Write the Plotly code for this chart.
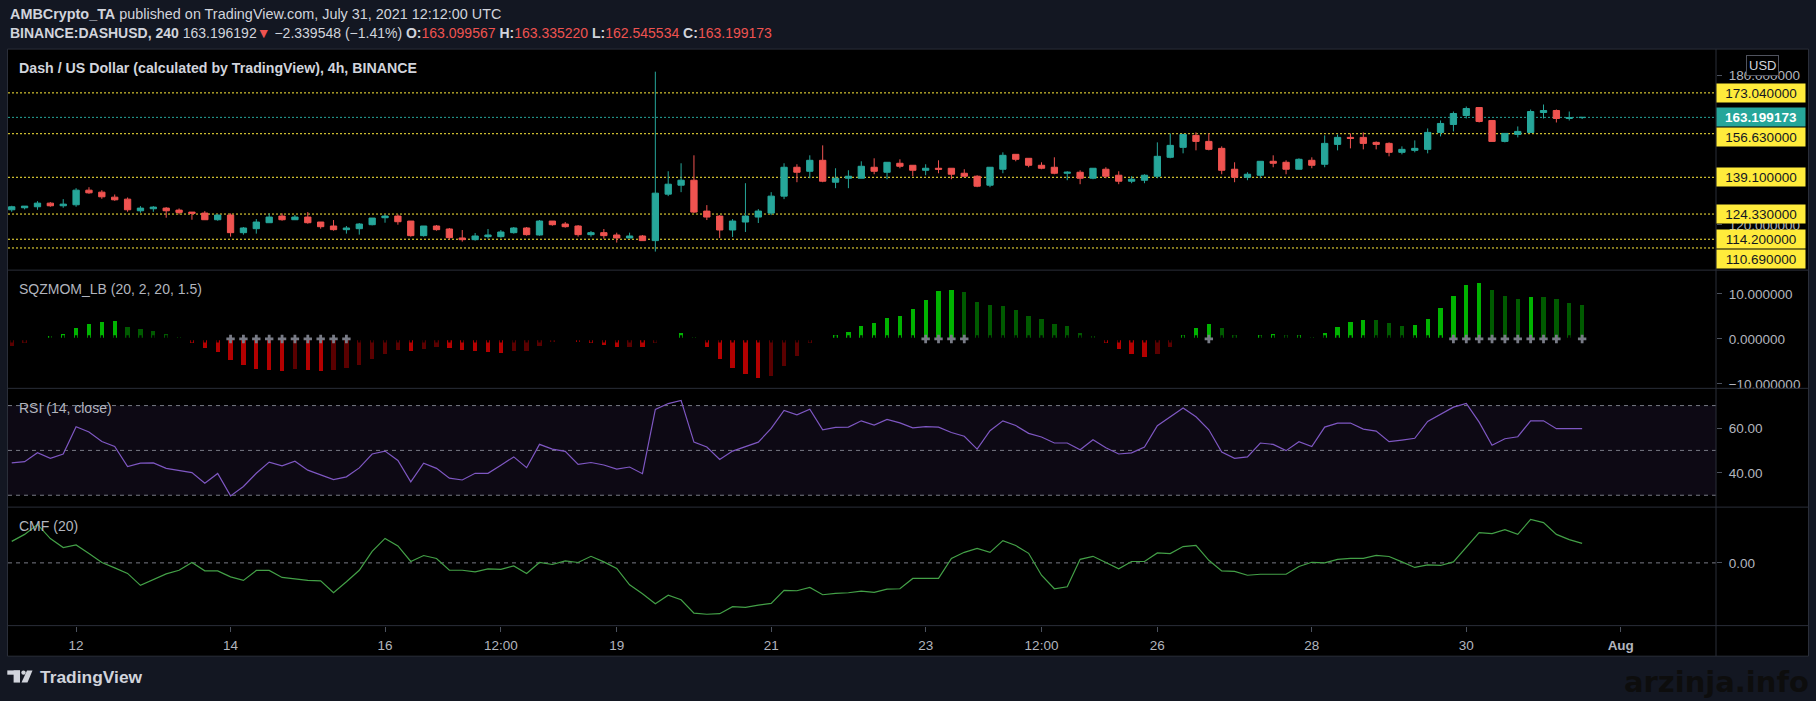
import pandas as pd
import plotly.graph_objects as go

W, H = 1816, 701
FONT = "Liberation Sans"

# ---------------- data ----------------
times = pd.date_range("2021-07-11 04:00", periods=123, freq="4h")

opens = [126.05, 126.86, 127.26, 128.72, 127.66, 128.06, 133.93, 133.13, 131.12, 130.32,
         125.65, 126.45, 126.72, 125.92, 125.12, 124.72, 122.05, 123.92, 116.85, 118.45,
         120.85, 123.52, 122.05, 123.12, 121.12, 119.52, 118.05, 118.45, 120.05, 122.85,
         123.52, 121.52, 115.65, 119.52, 118.32, 114.70, 114.04, 115.25, 115.25, 116.85,
         118.72, 115.91, 121.52, 120.32, 119.52, 116.05, 116.85, 115.91, 114.71, 115.51,
         113.65, 132.33, 135.93, 137.93, 125.52, 123.52, 117.92, 121.12, 123.12, 124.72,
         131.53, 143.14, 141.53, 145.94, 137.13, 138.73, 138.73, 143.14, 141.13, 144.74,
         143.94, 141.93, 142.74, 142.74, 140.73, 139.53, 135.93, 142.34, 148.34, 146.74,
         143.94, 143.14, 140.73, 141.13, 138.73, 142.34, 139.93, 137.53, 137.93, 139.53,
         147.14, 151.14, 155.95, 153.54, 150.74, 142.34, 139.13, 139.93, 145.54, 145.14,
         142.34, 145.94, 144.34, 152.34, 155.15, 155.15, 153.14, 152.74, 149.14, 149.94,
         150.34, 157.15, 160.35, 163.95, 167.16, 161.95, 153.54, 156.35, 157.15, 165.15,
         165.95, 162.75, 163.099567]
highs = [127.66, 127.52, 129.52, 129.12, 130.32, 134.73, 135.13, 133.93, 132.19, 130.99,
         127.52, 127.52, 127.12, 126.59, 125.12, 125.52, 124.19, 124.59, 119.12, 122.32,
         124.59, 124.59, 123.92, 125.12, 121.12, 121.92, 119.52, 120.72, 122.72, 124.19,
         124.19, 121.52, 119.52, 119.92, 118.72, 117.91, 116.71, 118.32, 117.91, 119.12,
         119.12, 121.92, 121.52, 121.12, 119.92, 117.52, 118.32, 116.85, 116.85, 115.91,
         181.57, 141.53, 144.74, 147.94, 127.92, 123.92, 122.32, 136.73, 126.32, 133.13,
         144.74, 144.34, 147.94, 151.94, 142.74, 141.93, 145.54, 146.74, 145.14, 146.34,
         143.94, 144.34, 145.94, 142.74, 142.34, 139.93, 143.14, 149.14, 148.34, 146.74,
         145.14, 147.14, 141.53, 141.93, 142.74, 143.14, 141.53, 139.53, 140.33, 153.14,
         156.75, 156.35, 157.15, 156.75, 151.54, 145.14, 141.13, 145.54, 147.94, 145.94,
         146.74, 147.14, 155.95, 156.35, 156.75, 157.15, 153.54, 153.14, 151.54, 153.94,
         158.75, 161.95, 165.55, 167.56, 167.16, 161.95, 156.75, 159.55, 166.35, 168.36,
         166.35, 165.55, 163.335220]
lows = [125.25, 126.19, 126.05, 127.26, 126.86, 127.26, 132.46, 130.46, 129.66, 125.25,
        124.85, 125.25, 122.85, 124.19, 122.05, 122.05, 121.65, 115.25, 116.05, 116.45,
        120.85, 121.65, 122.05, 120.45, 118.45, 117.65, 116.45, 116.05, 119.78, 120.85,
        120.05, 115.25, 115.25, 117.65, 114.04, 113.24, 113.64, 114.44, 114.84, 116.45,
        115.65, 115.65, 119.65, 118.85, 115.25, 115.25, 114.45, 112.85, 114.71, 113.65,
        109.24, 131.53, 133.13, 124.72, 121.92, 114.71, 115.11, 117.12, 120.72, 123.92,
        130.33, 137.13, 138.73, 137.13, 134.73, 134.73, 138.73, 140.33, 138.33, 142.74,
        139.53, 139.93, 140.73, 138.33, 139.13, 135.13, 135.13, 140.73, 145.54, 143.14,
        142.34, 140.33, 137.93, 136.33, 138.33, 138.73, 136.33, 136.73, 136.73, 138.73,
        146.74, 148.74, 149.94, 149.94, 140.33, 137.13, 137.93, 138.73, 143.14, 140.33,
        142.34, 142.74, 143.14, 149.94, 150.74, 150.34, 150.34, 147.54, 148.34, 149.14,
        148.74, 155.55, 157.55, 162.75, 161.15, 153.54, 153.14, 155.15, 157.15, 162.75,
        161.15, 161.95, 162.545534]
closes = [127.26, 127.52, 128.72, 127.66, 128.32, 133.93, 132.86, 131.26, 130.06, 126.05,
          126.72, 127.12, 125.65, 124.99, 124.59, 122.05, 123.92, 116.85, 118.72, 121.12,
          123.12, 122.05, 123.12, 120.85, 119.25, 118.05, 118.72, 120.32, 122.72, 123.52,
          121.25, 115.65, 119.52, 118.05, 114.84, 114.04, 115.51, 115.91, 117.11, 118.72,
          116.05, 121.52, 120.05, 119.25, 116.05, 116.85, 115.65, 114.71, 115.51, 113.65,
          132.73, 136.33, 137.93, 125.12, 123.12, 117.92, 121.52, 123.52, 125.52, 131.53,
          143.14, 141.13, 145.94, 137.53, 138.73, 139.53, 143.54, 141.53, 145.14, 143.54,
          141.93, 142.74, 142.34, 140.33, 139.53, 135.53, 143.14, 147.94, 146.34, 143.94,
          142.74, 140.73, 141.13, 138.73, 142.74, 139.53, 137.53, 138.33, 139.93, 147.54,
          151.94, 156.35, 153.54, 150.34, 141.93, 139.13, 140.33, 145.54, 144.74, 142.34,
          146.34, 143.94, 152.74, 155.15, 154.75, 152.74, 152.34, 149.14, 150.34, 150.74,
          157.15, 160.75, 164.75, 166.75, 161.55, 153.54, 156.75, 157.55, 165.55, 165.95,
          162.75, 163.15, 163.199173]

sqzmom = [-1.62, -1.03, -0.37, 0.52, 1.18, 2.51, 3.39, 3.83, 3.85, 2.73,
          2.29, 1.84, 1.18, 0.29, -1.03, -2.14, -3.02, -4.79, -5.90, -6.78,
          -7.00, -7.05, -6.78, -7.00, -7.23, -7.00, -6.56, -5.90, -4.57, -3.47,
          -2.58, -2.80, -2.36, -1.92, -2.14, -2.58, -2.60, -3.02, -3.24, -2.80,
          -2.78, -1.62, -0.74, -0.30, -0.74, -0.96, -1.40, -1.84, -1.80, -1.90,
          -0.96, 0.15, 1.40, 0.30, -1.84, -4.50, -6.49, -7.82, -8.70, -8.26,
          -6.05, -3.83, -0.96, 0.10, 0.96, 1.62, 2.95, 3.61, 4.72, 5.16,
          6.71, 8.70, 10.69, 10.91, 10.47, 8.26, 7.60, 7.37, 6.49, 5.16,
          4.50, 3.39, 2.95, 1.40, 0.52, -1.03, -2.36, -3.47, -4.13, -3.47,
          -1.92, 0.74, 2.51, 3.39, 2.51, 0.96, -0.15, 0.74, 1.18, 0.74,
          0.80, 0.30, 1.40, 2.73, 3.83, 4.28, 4.20, 3.61, 2.95, 2.98,
          4.50, 6.93, 9.59, 12.02, 12.46, 10.91, 9.59, 8.92, 9.37, 9.30,
          8.92, 8.04, 7.60]
# candles where the squeeze is released (grey cross on the zero line)
sqz_release_idx = list(range(17, 27)) + [71, 72, 73, 74, 93] + list(range(112, 121)) + [122]

rsi = [44.4, 45.0, 49.0, 46.5, 48.4, 60.6, 58.2, 54.0, 51.8, 42.8,
       44.3, 44.4, 42.0, 40.9, 40.1, 35.4, 39.7, 29.7, 33.9, 39.8,
       44.8, 43.1, 45.2, 41.2, 39.1, 37.0, 38.2, 42.2, 48.4, 49.7,
       45.5, 36.0, 44.3, 42.0, 37.6, 36.8, 39.8, 39.8, 43.4, 47.1,
       42.3, 52.7, 50.6, 49.6, 43.8, 44.6, 43.5, 41.7, 42.6, 39.6,
       68.3, 70.9, 72.3, 53.7, 51.5, 46.0, 49.7, 51.7, 53.7, 59.8,
       67.8, 65.9, 68.4, 59.2, 60.3, 60.4, 63.2, 61.3, 63.8, 62.3,
       60.1, 60.6, 60.4, 58.0, 56.3, 50.6, 58.8, 63.2, 61.1, 57.6,
       56.0, 53.3, 53.3, 50.3, 54.8, 51.2, 48.4, 48.9, 51.5, 61.0,
       65.0, 68.9, 65.0, 59.2, 49.3, 46.5, 47.1, 53.3, 52.7, 49.9,
       53.9, 51.7, 60.4, 62.2, 62.2, 59.5, 58.6, 53.9, 54.6, 55.4,
       62.9, 66.0, 69.3, 71.0, 62.6, 52.3, 55.2, 56.1, 63.2, 63.2,
       59.7, 59.7, 59.7]

cmf = [0.108, 0.143, 0.193, 0.122, 0.077, 0.090, 0.047, 0.002, -0.025, -0.053,
       -0.113, -0.085, -0.055, -0.037, 0.002, -0.040, -0.040, -0.070, -0.088, -0.038,
       -0.038, -0.073, -0.082, -0.088, -0.090, -0.150, -0.095, -0.037, 0.058, 0.123,
       0.085, 0.007, 0.037, 0.022, -0.037, -0.037, -0.045, -0.030, -0.033, -0.015,
       -0.053, 0.002, -0.008, 0.010, 0.002, 0.033, 0.005, -0.028, -0.110, -0.155,
       -0.205, -0.162, -0.185, -0.252, -0.258, -0.255, -0.220, -0.223, -0.212, -0.203,
       -0.138, -0.140, -0.123, -0.160, -0.153, -0.150, -0.142, -0.148, -0.132, -0.130,
       -0.078, -0.078, -0.078, 0.022, 0.053, 0.073, 0.053, 0.112, 0.087, 0.048,
       -0.062, -0.130, -0.120, 0.018, 0.033, 0.002, -0.030, 0.007, 0.007, 0.050,
       0.047, 0.082, 0.088, 0.013, -0.040, -0.043, -0.062, -0.057, -0.057, -0.057,
       -0.018, 0.003, 0.000, 0.018, 0.023, 0.023, 0.038, 0.032, 0.005, -0.023,
       -0.010, -0.013, 0.005, 0.077, 0.152, 0.147, 0.167, 0.143, 0.218, 0.202,
       0.143, 0.117, 0.098]

levels = [173.04, 156.63, 139.10, 124.33, 114.20, 110.69]
last_price = 163.199173

time_ticks = ["2021-07-12", "2021-07-14", "2021-07-16", "2021-07-17 12:00", "2021-07-19",
              "2021-07-21", "2021-07-23", "2021-07-24 12:00", "2021-07-26", "2021-07-28",
              "2021-07-30", "2021-08-01"]
time_labels = ["12", "14", "16", "12:00", "19", "21", "23", "12:00", "26", "28", "30", "<b>Aug</b>"]

price_ticks = [180, 120]
sqz_ticks = [10, 0, -10]
rsi_ticks = [60, 40]
rsi_bands = [70, 50, 30]
cmf_ticks = [0]

assert len(opens) == len(highs) == len(lows) == len(closes) == len(sqzmom) == len(rsi) == len(cmf) == 123

# ---------------- style ----------------
TEAL = "#26a69a"
REDC = "#ef5350"
LIME, GREEN, RED, MAROON = "#00b300", "#005a00", "#b30000", "#5a0000"
BORDER = "#2a2e39"
TXT = "#b2b5be"
TXT2 = "#d1d4dc"
BG = "#131722"


def px(x):
    return x / W


def py(y):
    return 1 - y / H


XD = [px(8), px(1716)]
DOM = {
    "y": [py(271.3), py(49.3)],
    "y2": [py(390), py(271.3)],
    "y3": [py(509.3), py(390)],
    "y4": [py(628.3), py(509.3)],
}


def sqz_color(i):
    v = sqzmom[i]
    p = sqzmom[i - 1] if i > 0 else v
    if v > 0:
        return LIME if v > p else GREEN
    return RED if v < p else MAROON


bar_colors = [sqz_color(i) for i in range(len(sqzmom))]
released = set(sqz_release_idx)
x_rel = [times[i] for i in range(len(times)) if i in released]
x_on = [times[i] for i in range(len(times)) if i not in released]

fig = go.Figure()
fig.add_trace(go.Candlestick(
    x=times, open=opens, high=highs, low=lows, close=closes,
    increasing=dict(line=dict(color=TEAL, width=1), fillcolor=TEAL),
    decreasing=dict(line=dict(color=REDC, width=1), fillcolor=REDC),
    whiskerwidth=0, xaxis="x", yaxis="y", hoverinfo="skip", showlegend=False))
fig.add_trace(go.Bar(
    x=times, y=sqzmom, width=4.8e6, marker=dict(color=bar_colors, line=dict(width=0)),
    xaxis="x2", yaxis="y2", hoverinfo="skip", showlegend=False))
fig.add_trace(go.Scatter(
    x=x_on, y=[0] * len(x_on), mode="markers",
    marker=dict(symbol="cross", size=6, color="#000000", line=dict(width=0)),
    xaxis="x2", yaxis="y2", hoverinfo="skip", showlegend=False))
fig.add_trace(go.Scatter(
    x=x_rel, y=[0] * len(x_rel), mode="markers",
    marker=dict(symbol="cross", size=7, color="#787b86", line=dict(width=0)),
    xaxis="x2", yaxis="y2", hoverinfo="skip", showlegend=False))
fig.add_trace(go.Scatter(
    x=times, y=rsi, mode="lines", line=dict(color="#7e57c2", width=1.2),
    xaxis="x3", yaxis="y3", hoverinfo="skip", showlegend=False))
fig.add_trace(go.Scatter(
    x=times, y=cmf, mode="lines", line=dict(color="#43a047", width=1.2),
    xaxis="x4", yaxis="y4", hoverinfo="skip", showlegend=False))

shapes = []
# outer frame (black chart area incl. scales)
shapes.append(dict(type="rect", xref="paper", yref="paper", x0=px(7.5), x1=px(1808.5),
                   y0=py(659), y1=py(49.3), fillcolor="#000000",
                   line=dict(color=BORDER, width=1), layer="below"))
for yy in [271.3, 390, 509.3, 628.3]:
    shapes.append(dict(type="line", xref="paper", yref="paper", x0=px(7.5), x1=px(1808.5),
                       y0=py(yy), y1=py(yy), line=dict(color=BORDER, width=1)))
shapes.append(dict(type="line", xref="paper", yref="paper", x0=px(1716), x1=px(1716),
                   y0=py(659), y1=py(49.3), line=dict(color=BORDER, width=1)))
# RSI band
shapes.append(dict(type="rect", xref="x3 domain", yref="y3", x0=0, x1=1,
                   y0=rsi_bands[2], y1=rsi_bands[0], fillcolor="rgba(126,87,194,0.10)",
                   line=dict(width=0), layer="below"))
for lv in rsi_bands:
    shapes.append(dict(type="line", xref="x3 domain", yref="y3", x0=0, x1=1, y0=lv, y1=lv,
                       line=dict(color="#787b86", width=1, dash="4px,4px"), layer="below"))
shapes.append(dict(type="line", xref="x4 domain", yref="y4", x0=0, x1=1, y0=0, y1=0,
                   line=dict(color="#787b86", width=1, dash="4px,4px"), layer="below"))
# price levels
for lv in levels:
    shapes.append(dict(type="line", xref="x domain", yref="y", x0=0, x1=1, y0=lv, y1=lv,
                       line=dict(color="#ffeb3b", width=1, dash="2px,2px"), layer="below"))
shapes.append(dict(type="line", xref="x domain", yref="y", x0=0, x1=1, y0=last_price, y1=last_price,
                   line=dict(color=TEAL, width=1, dash="2px,2px"), layer="below"))

# TradingView logo
LOGO = TXT2
shapes.append(dict(type="rect", xref="paper", yref="paper", x0=px(7.3), x1=px(20),
                   y0=py(677.6), y1=py(673.3), fillcolor=LOGO, line=dict(width=0)))
shapes.append(dict(type="rect", xref="paper", yref="paper", x0=px(13.6), x1=px(20),
                   y0=py(685.5), y1=py(673.3), fillcolor=LOGO, line=dict(width=0)))
shapes.append(dict(type="circle", xref="paper", yref="paper", x0=px(21.3), x1=px(25.7),
                   y0=py(677.7), y1=py(673.3), fillcolor=LOGO, line=dict(width=0)))
shapes.append(dict(type="path", xref="paper", yref="paper",
                   path=f"M {px(27)} {py(673.3)} L {px(32.5)} {py(673.3)} L {px(27.5)} {py(685.5)} L {px(21.5)} {py(685.5)} Z",
                   fillcolor=LOGO, line=dict(width=0)))

ann = []


def text_ann(x, y, text, size=14, color=TXT2, anchor="left", family=FONT, **kw):
    d = dict(xref="paper", yref="paper", x=px(x), y=py(y), xanchor=anchor, yanchor="middle",
             text=text, showarrow=False, font=dict(family=family, size=size, color=color))
    d.update(kw)
    ann.append(d)


RC = "color:#ef5350"
sp = "\u00a0"
text_ann(8, 14, "<b>AMBCrypto_TA</b> published on TradingView.com, July 31, 2021 12:12:00 UTC", size=14.4)
text_ann(8, 33, f"<b>BINANCE:DASHUSD, 240</b>{sp}163.196192<span style='{RC}'>▼</span>{sp}−2.339548 (−1.41%){sp}"
               f"<b>O:</b><span style='{RC}'>163.099567</span>{sp}<b>H:</b><span style='{RC}'>163.335220</span>{sp}"
               f"<b>L:</b><span style='{RC}'>162.545534</span>{sp}<b>C:</b><span style='{RC}'>163.199173</span>")
text_ann(17, 68.3, "<b>Dash / US Dollar (calculated by TradingView), 4h, BINANCE</b>", size=14.2, color=TXT2)
text_ann(17, 290, "SQZMOM_LB (20, 2, 20, 1.5)", color=TXT)
text_ann(17, 409.3, "RSI (14, close)", color=TXT)
text_ann(17, 528.3, "CMF (20)", color=TXT)
text_ann(38, 680, "<b>TradingView</b>", size=17.4, color=TXT2)
text_ann(1622, 685, "<b>arzinja.info</b>", size=29, color="#0d0d0d", family="DejaVu Sans")

# price scale labels
label_shift = {156.63: -3.3, 110.69: -10.7}
for lv in levels:
    ann.append(dict(xref="paper", yref="y", x=px(1716), y=lv, xanchor="left", yanchor="middle",
                    yshift=label_shift.get(lv, 0), text=f"{lv:.6f}", showarrow=False,
                    bgcolor="#ffeb3b", width=86, height=16, borderpad=1, align="center",
                    font=dict(family=FONT, size=13.5, color="#131722")))
ann.append(dict(xref="paper", yref="y", x=px(1716), y=last_price, xanchor="left", yanchor="middle",
                text=f"<b>{last_price:.6f}</b>", showarrow=False, bgcolor=TEAL, width=86, height=16,
                borderpad=1, align="center", font=dict(family=FONT, size=13.5, color="#ffffff")))
ann.append(dict(xref="paper", yref="paper", x=px(1762), y=py(66), xanchor="center", yanchor="middle",
                text="USD", showarrow=False, bgcolor="#000000", bordercolor="#50535e", borderwidth=1,
                borderpad=2, font=dict(family=FONT, size=13, color=TXT2)))

axis_common = dict(showgrid=False, zeroline=False, showline=False, fixedrange=True)
yaxis_common = dict(axis_common, side="right", ticks="outside", ticklen=5, tickcolor="#4c525e",
                    tickfont=dict(family=FONT, size=13.5, color=TXT), ticklabelstandoff=4)
x_range = ["2021-07-11 02:50:24", "2021-08-02 05:36:00"]

fig.update_layout(
    width=W, height=H, margin=dict(l=0, r=0, t=0, b=0),
    paper_bgcolor=BG, plot_bgcolor="#000000", bargap=0, showlegend=False,
    xaxis=dict(axis_common, domain=XD, anchor="y", matches="x4", showticklabels=False,
               rangeslider=dict(visible=False), type="date"),
    xaxis2=dict(axis_common, domain=XD, anchor="y2", matches="x4", showticklabels=False, type="date"),
    xaxis3=dict(axis_common, domain=XD, anchor="y3", matches="x4", showticklabels=False, type="date"),
    xaxis4=dict(axis_common, domain=XD, anchor="y4", type="date", range=x_range,
                tickvals=time_ticks, ticktext=time_labels, ticks="outside", ticklen=5,
                tickcolor="#4c525e", tickfont=dict(family=FONT, size=13.5, color=TXT),
                ticklabelstandoff=2),
    yaxis=dict(yaxis_common, domain=DOM["y"], anchor="x", range=[101.78, 190.65],
               tickvals=price_ticks, ticktext=[f"{v:.6f}" for v in price_ticks]),
    yaxis2=dict(yaxis_common, domain=DOM["y2"], anchor="x2", range=[-10.97, 15.29],
                tickvals=sqz_ticks, ticktext=[f"{v:.6f}".replace("-", "−") for v in sqz_ticks]),
    yaxis3=dict(yaxis_common, domain=DOM["y3"], anchor="x3", range=[24.7, 77.7],
                tickvals=rsi_ticks, ticktext=[f"{v:.2f}" for v in rsi_ticks]),
    yaxis4=dict(yaxis_common, domain=DOM["y4"], anchor="x4", range=[-0.315, 0.28],
                tickvals=cmf_ticks, ticktext=[f"{v:.2f}" for v in cmf_ticks]),
    shapes=shapes, annotations=ann,
)

fig.write_html("out.html", config={"displayModeBar": False},
               post_script="document.body.style.margin='0';document.body.style.overflow='hidden';")
